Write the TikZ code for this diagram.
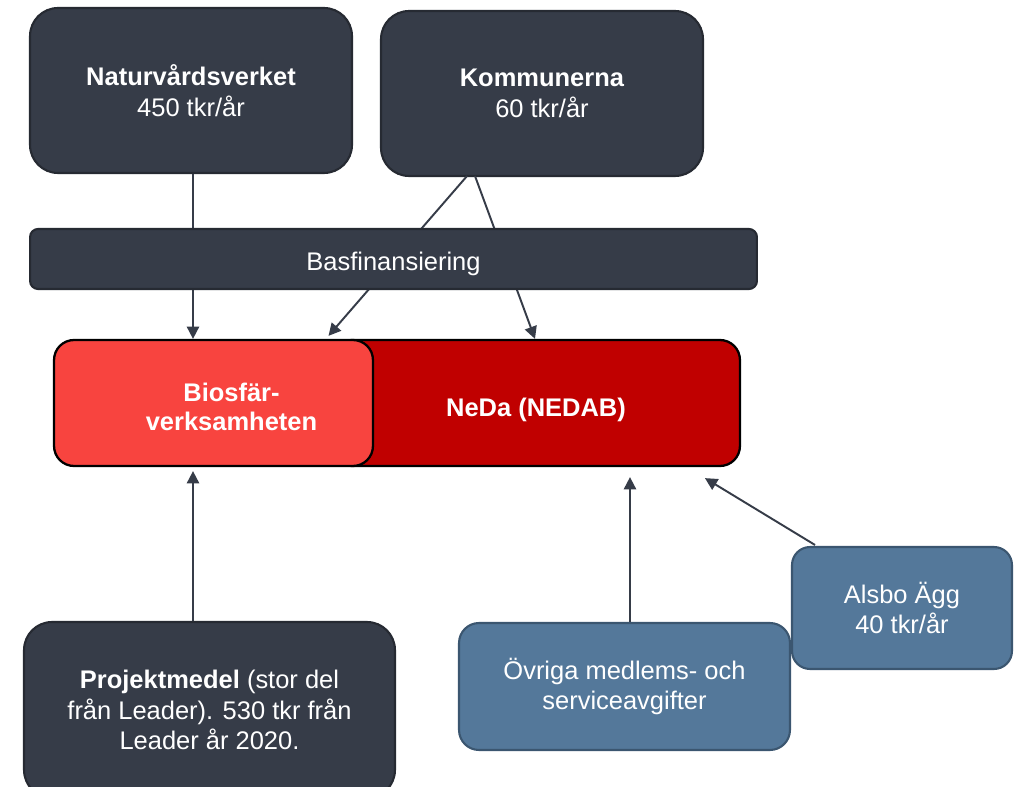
\documentclass[tikz,border=0pt]{standalone}
\usepackage{fontspec}
\setmainfont{Liberation Sans}
\usetikzlibrary{arrows.meta}
\definecolor{slate}{HTML}{363C48}
\definecolor{slateedge}{HTML}{262A32}
\definecolor{lightred}{HTML}{F8443F}
\definecolor{darkred}{HTML}{C00000}
\definecolor{steel}{HTML}{54789A}
\definecolor{steeledge}{HTML}{3B5670}
\tikzset{
  txt/.style={font=\fontsize{14.5}{17.5}\selectfont, text=white, align=center},
  darkbox/.style={txt, fill=slate, draw=slateedge, line width=1.2pt, rounded corners=0.56cm},
  redbox/.style={txt, draw=black, line width=1.3pt, rounded corners=0.4cm, minimum height=2.52cm},
  bluebox/.style={txt, fill=steel, draw=steeledge, line width=1.2pt, rounded corners=0.4cm},
  conn/.style={draw=slate, line width=1.1pt, -{Triangle[length=7pt,width=7pt]}}
}
\begin{document}
\begin{tikzpicture}[x=0.02cm,y=-0.02cm]
\useasboundingbox (0,0) rectangle (1018,787);
\clip (0,0) rectangle (1018,787);
\fill[white] (0,0) rectangle (1018,787);
% top sources
\node[darkbox, minimum width=6.44cm, minimum height=3.3cm] (nat) at (191,90.5)
  {\textbf{Naturvårdsverket}\\450 tkr/år};
\node[darkbox, minimum width=6.44cm, minimum height=3.3cm] (kom) at (542,93.5)
  {\textbf{Kommunerna}\\60 tkr/år};
% receivers
\node[redbox, fill=darkred, minimum width=8.16cm] (neda) at (536,403)
  {\raisebox{-0.13cm}[\height][\depth]{\textbf{NeDa (NEDAB)}}};
\node[redbox, fill=lightred, minimum width=6.38cm] (bio) at (213.5,403)
  {\hspace*{0.72cm}\raisebox{-0.14cm}[\height][\depth]{\begin{tabular}{@{}c@{}}\textbf{Biosfär-}\\[-1pt]\textbf{verksamheten}\end{tabular}}};
% bottom sources
\node[darkbox, minimum width=7.42cm, minimum height=3.52cm] (pro) at (209.5,710)
  {\textbf{Projektmedel} (stor del\\från Leader). 530 tkr från\\Leader år 2020.};
\node[bluebox, minimum width=6.62cm, minimum height=2.54cm] (ovr) at (624.5,686.5)
  {Övriga medlems- och\\serviceavgifter};
\node[bluebox, minimum width=4.4cm, minimum height=2.44cm, rounded corners=0.36cm] (als) at (902,608)
  {Alsbo Ägg\\40 tkr/år};
% connectors from the top (drawn behind the Basfinansiering bar)
\draw[conn] (nat.south) ++(0.04cm,0) coordinate (natA) -- (natA |- bio.north);
\draw[conn] ([xshift=-1.5cm,yshift=0.02cm]kom.south) -- ([xshift=2.3cm,yshift=0.06cm]bio.north);
\draw[conn] ([xshift=-1.34cm,yshift=0.02cm]kom.south) -- ([xshift=-0.02cm]neda.north);
\node[txt, fill=slate, draw=slateedge, line width=1.2pt, rounded corners=0.16cm,
      minimum width=14.54cm, minimum height=1.2cm] (bas) at (393.5,259)
  {\raisebox{-0.1cm}[\height][\depth]{Basfinansiering}};
% connectors from below
\draw[conn] ([xshift=-0.33cm]pro.north) -- ([xshift=-0.41cm,yshift=-0.08cm]bio.south);
\draw[conn] ([xshift=0.11cm]ovr.north) -- ([xshift=1.88cm,yshift=-0.2cm]neda.south);
\draw[conn] ([xshift=-1.74cm,yshift=0.02cm]als.north) -- ([xshift=3.38cm,yshift=-0.22cm]neda.south);
\end{tikzpicture}
\end{document}
